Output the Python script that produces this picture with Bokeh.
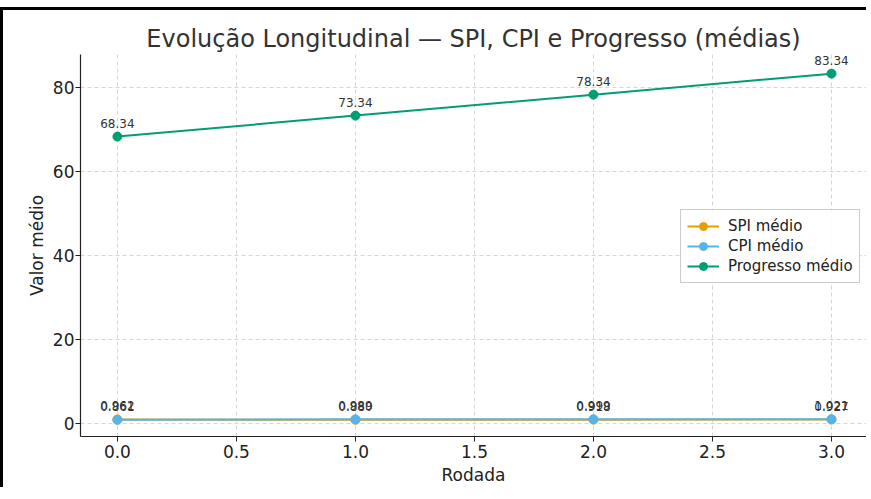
from bokeh.plotting import figure
from bokeh.models import FixedTicker, PrintfTickFormatter, Range1d, ColumnDataSource, Legend, LegendItem
from bokeh.core.properties import value
from bokeh.embed import file_html
from bokeh.resources import INLINE

rodada = [0, 1, 2, 3]
spi = [0.962, 0.880, 0.918, 0.927]
cpi = [0.861, 0.989, 0.999, 1.021]
progresso = [68.34, 73.34, 78.34, 83.34]
x_ticks = [0.0, 0.5, 1.0, 1.5, 2.0, 2.5, 3.0]
y_ticks = [0, 20, 40, 60, 80]

FONT = "DejaVu Sans"

p = figure(frame_width=786, frame_height=382, output_backend="svg", toolbar_location=None,
           x_range=Range1d(-0.155, 3.147), y_range=Range1d(-3.1, 87.9),
           min_border_left=77, min_border_right=0, min_border_top=44, min_border_bottom=45)
p.styles = {"border-top": "3px solid #000", "border-left": "3px solid #000", "margin-top": "7px"}

p.title.text = "Evolução Longitudinal — SPI, CPI e Progresso (médias)"
p.title.align = "center"
p.title.text_font = FONT
p.title.text_font_size = "24px"
p.title.text_font_style = "normal"
p.title.text_color = "#333333"
p.title.standoff = 3

p.outline_line_color = None
for ax in (p.xaxis, p.yaxis):
    ax.axis_line_color = "#222222"
    ax.axis_line_width = 1.2
    ax.major_tick_line_color = "#222222"
    ax.major_tick_out = 5
    ax.major_tick_in = 0
    ax.minor_tick_line_color = None
    ax.major_label_text_font = FONT
    ax.major_label_text_font_size = "17px"
    ax.major_label_text_color = "#222222"
    ax.axis_label_text_font = FONT
    ax.axis_label_text_font_size = "17px"
    ax.axis_label_text_font_style = "normal"
    ax.axis_label_text_color = "#222222"

p.xaxis.major_label_standoff = 3
p.xaxis.axis_label_standoff = 4
p.yaxis.major_label_standoff = 1
p.yaxis.axis_label_standoff = 3

p.xaxis.ticker = FixedTicker(ticks=x_ticks)
p.xaxis.formatter = PrintfTickFormatter(format="%.1f")
p.yaxis.ticker = FixedTicker(ticks=y_ticks)
p.yaxis.formatter = PrintfTickFormatter(format="%d")
p.xaxis.axis_label = "Rodada"
p.yaxis.axis_label = "Valor médio"

p.grid.grid_line_color = "#cccccc"
p.grid.grid_line_dash = "4 3"
p.grid.grid_line_width = 0.8

series = [("SPI médio", spi, "#E69F00"),
          ("CPI médio", cpi, "#56B4E9"),
          ("Progresso médio", progresso, "#009E73")]

items = []
for name, vals, col in series:
    src = ColumnDataSource(dict(x=rodada, y=vals, t=[f"{v:.3f}" if v < 10 else f"{v:.2f}" for v in vals]))
    l = p.line("x", "y", source=src, line_color=col, line_width=2)
    c = p.scatter("x", "y", source=src, size=9, fill_color=col, line_color=col)
    p.text("x", "y", text="t", source=src, y_offset=-9, text_align="center", text_baseline="bottom",
           text_font=value(FONT), text_font_size="12px", text_color="#333333")
    items.append(LegendItem(label=name, renderers=[l, c]))

legend = Legend(items=items, location=(600, 153))
legend.label_text_font = FONT
legend.label_text_font_size = "15px"
legend.label_text_color = "#222222"
legend.border_line_color = "#cccccc"
legend.border_line_alpha = 1
legend.background_fill_alpha = 0.9
legend.glyph_width = 32
legend.spacing = 0
legend.padding = 6
legend.margin = 0
legend.label_standoff = 9
p.add_layout(legend, "center")

open("out.html", "w").write(file_html(p, INLINE))
